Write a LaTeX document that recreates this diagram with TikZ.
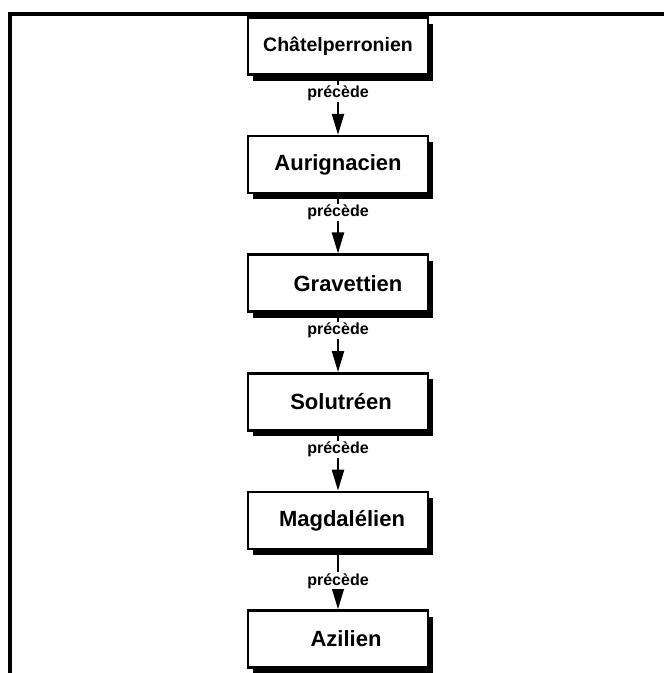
\documentclass[tikz,border=0pt]{standalone}
\usepackage{fontspec}
\setmainfont{Liberation Sans}
\usetikzlibrary{arrows.meta,shadows}

\begin{document}
\begin{tikzpicture}[x=1pt,y=-1pt,
    periode/.style={draw,line width=2.5pt,fill=white,minimum width=180pt,minimum height=57pt,
      font=\fontsize{22}{26}\selectfont\bfseries,
      drop shadow={shadow xshift=5pt,shadow yshift=-6pt,opacity=1,fill=black}},
    precede/.style={-{Triangle[width=12pt,length=21pt]},line width=2.2pt},
    etiq/.style={fill=white,inner sep=1pt,pos=0.3,font=\fontsize{16}{18}\selectfont\bfseries}]
    \useasboundingbox (0,0) rectangle (664,673);
    % cadre
    \draw[line width=4pt] (10,675) -- (10,14) -- (666,14);
    % periodes
    \node[periode,font=\fontsize{19.5}{24}\selectfont\bfseries] (chat) at (338,46) {Châtelperronien};
    \node[periode] (aurig) at (338,164.6) {Aurignacien};
    \node[periode] (grav) at (338,283.2) {\hspace{20pt}Gravettien};
    \node[periode] (solut) at (338,401.8) {\hspace{6pt}Solutréen};
    \node[periode] (magd) at (338,520.4) {\hspace{8pt}Magdalélien};
    \node[periode] (azil) at (338,639) {\hspace{16pt}Azilien};
    % relations
    \draw[precede] (chat) -- node[etiq] {précède} (aurig);
    \draw[precede] (aurig) -- node[etiq] {précède} (grav);
    \draw[precede] (grav) -- node[etiq] {précède} (solut);
    \draw[precede] (solut) -- node[etiq] {précède} (magd);
    \draw[precede] (magd) -- node[etiq,pos=0.52] {précède} (azil);
\end{tikzpicture}
\end{document}
